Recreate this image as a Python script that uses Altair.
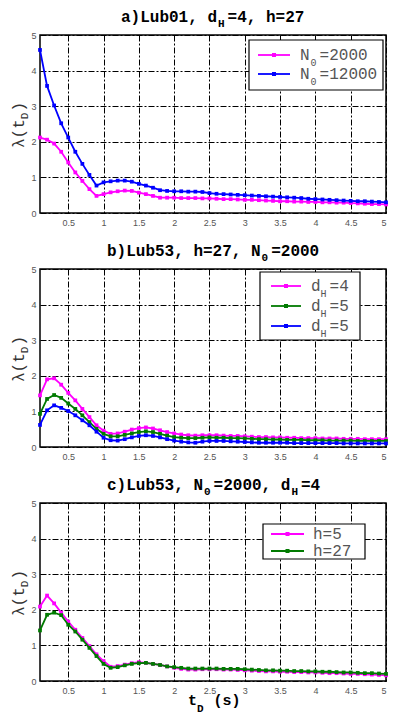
import altair as alt
import pandas as pd

# ---------------- data ----------------
t_D = [0.1, 0.2, 0.3, 0.4, 0.5, 0.6, 0.7, 0.8, 0.9, 1.0,
       1.1, 1.2, 1.3, 1.4, 1.5, 1.6, 1.7, 1.8, 1.9, 2.0,
       2.1, 2.2, 2.3, 2.4, 2.5, 2.6, 2.7, 2.8, 2.9, 3.0,
       3.1, 3.2, 3.3, 3.4, 3.5, 3.6, 3.7, 3.8, 3.9, 4.0,
       4.1, 4.2, 4.3, 4.4, 4.5, 4.6, 4.7, 4.8, 4.9, 5.0]

# panel a) Lub01, dH=4, h=27
a_N0_2000 = [2.12, 2.06, 1.95, 1.72, 1.42, 1.14, 0.90, 0.67, 0.48, 0.53,
             0.58, 0.61, 0.63, 0.62, 0.57, 0.53, 0.48, 0.43, 0.43, 0.43,
             0.42, 0.42, 0.42, 0.41, 0.41, 0.40, 0.39, 0.39, 0.38, 0.37,
             0.37, 0.36, 0.35, 0.34, 0.33, 0.33, 0.32, 0.32, 0.31, 0.31,
             0.30, 0.30, 0.29, 0.29, 0.28, 0.27, 0.26, 0.25, 0.25, 0.24]
a_N0_12000 = [4.58, 3.57, 3.02, 2.52, 2.12, 1.72, 1.38, 1.07, 0.77, 0.86,
              0.89, 0.91, 0.91, 0.88, 0.82, 0.77, 0.71, 0.64, 0.62, 0.61,
              0.61, 0.60, 0.60, 0.59, 0.56, 0.54, 0.53, 0.52, 0.51, 0.50,
              0.49, 0.48, 0.47, 0.46, 0.45, 0.44, 0.43, 0.42, 0.40, 0.39,
              0.38, 0.37, 0.36, 0.35, 0.34, 0.33, 0.33, 0.32, 0.31, 0.30]

# panel b) Lub53, h=27, N0=2000
b_dH4 = [1.45, 1.90, 1.93, 1.75, 1.52, 1.31, 1.07, 0.84, 0.61, 0.46,
         0.37, 0.38, 0.43, 0.49, 0.53, 0.55, 0.52, 0.47, 0.42, 0.38,
         0.35, 0.33, 0.32, 0.33, 0.33, 0.33, 0.32, 0.31, 0.31, 0.30,
         0.29, 0.28, 0.28, 0.27, 0.27, 0.26, 0.26, 0.25, 0.25, 0.25,
         0.24, 0.24, 0.24, 0.23, 0.23, 0.23, 0.22, 0.22, 0.22, 0.22]
b_dH5_green = [0.93, 1.35, 1.46, 1.38, 1.22, 1.07, 0.89, 0.70, 0.51, 0.37,
               0.30, 0.30, 0.34, 0.38, 0.42, 0.44, 0.42, 0.37, 0.32, 0.28,
               0.26, 0.25, 0.25, 0.26, 0.27, 0.26, 0.26, 0.25, 0.25, 0.24,
               0.23, 0.22, 0.22, 0.21, 0.21, 0.20, 0.20, 0.20, 0.19, 0.19,
               0.19, 0.18, 0.18, 0.18, 0.18, 0.17, 0.17, 0.17, 0.17, 0.17]
b_dH5_blue = [0.62, 1.03, 1.17, 1.10, 1.01, 0.89, 0.75, 0.61, 0.43, 0.26,
              0.19, 0.18, 0.22, 0.27, 0.31, 0.33, 0.31, 0.27, 0.22, 0.18,
              0.15, 0.13, 0.12, 0.15, 0.17, 0.17, 0.17, 0.16, 0.15, 0.14,
              0.13, 0.12, 0.12, 0.12, 0.12, 0.12, 0.11, 0.11, 0.11, 0.11,
              0.11, 0.11, 0.11, 0.10, 0.10, 0.10, 0.10, 0.10, 0.10, 0.10]

# panel c) Lub53, N0=2000, dH=4
c_h5 = [2.09, 2.40, 2.18, 1.92, 1.67, 1.44, 1.21, 0.98, 0.75, 0.56,
        0.40, 0.42, 0.46, 0.50, 0.53, 0.51, 0.48, 0.45, 0.41, 0.37,
        0.34, 0.32, 0.32, 0.33, 0.33, 0.33, 0.32, 0.32, 0.31, 0.30,
        0.29, 0.28, 0.27, 0.27, 0.26, 0.26, 0.25, 0.25, 0.24, 0.24,
        0.23, 0.22, 0.22, 0.21, 0.20, 0.20, 0.19, 0.18, 0.17, 0.16]
c_h27 = [1.42, 1.86, 1.92, 1.85, 1.58, 1.39, 1.16, 0.93, 0.70, 0.48,
         0.37, 0.39, 0.44, 0.48, 0.50, 0.51, 0.48, 0.45, 0.41, 0.39,
         0.37, 0.35, 0.35, 0.35, 0.35, 0.35, 0.34, 0.34, 0.34, 0.33,
         0.32, 0.31, 0.30, 0.30, 0.29, 0.29, 0.28, 0.28, 0.27, 0.27,
         0.26, 0.26, 0.25, 0.24, 0.24, 0.23, 0.22, 0.22, 0.21, 0.20]

x_ticks = [0.5, 1, 1.5, 2, 2.5, 3, 3.5, 4, 4.5, 5]
y_ticks = [0, 1, 2, 3, 4, 5]

MAGENTA = "#ff00ff"
BLUE = "#0000ff"
GREEN = "#007a00"

W, H = 346, 178
MONO = "Liberation Mono"
SANS = "Liberation Sans"

x_scale = alt.Scale(domain=[0.1, 5], nice=False, zero=False)
y_scale = alt.Scale(domain=[0, 5], nice=False)

GRID = dict(grid=True, gridDash=[6, 2, 2, 2], gridColor="black", gridWidth=1,
            gridOpacity=1, ticks=False, domain=False, title=None,
            labelFont=SANS, labelFontSize=9, labelColor="#555555")
x_axis = alt.Axis(values=x_ticks, format="~g", labelPadding=5, labelFlush=True, **GRID)
y_axis = alt.Axis(values=y_ticks, format="d", labelPadding=4, labelFlush=False, **GRID)


def series_layers(series):
    layers = []
    for vals, color in series:
        df = pd.DataFrame({"t": t_D, "v": vals})
        enc = dict(x=alt.X("t:Q", scale=x_scale, axis=x_axis),
                   y=alt.Y("v:Q", scale=y_scale, axis=y_axis))
        layers.append(alt.Chart(df).mark_line(color=color, strokeWidth=1.8).encode(**enc))
        layers.append(alt.Chart(df).mark_point(shape="square", filled=True, size=14,
                                               color=color, opacity=1).encode(**enc))
    return layers


def rich(pieces, x0, y0, size, sub_size, weight="normal", color="black",
         sub_dy=5, angle=0):
    """pieces: list of (text, is_subscript, gap_before)"""
    layers = []
    pos = x0 if angle == 0 else y0
    for text, sub, gap in pieces:
        fs = sub_size if sub else size
        if angle == 0:
            pos += gap
            x, y = pos, y0 + (sub_dy if sub else 0)
        else:
            pos -= gap
            x, y = x0 + (sub_dy if sub else 0), pos
        layers.append(
            alt.Chart(pd.DataFrame({"s": [text]})).mark_text(
                align="left", baseline="alphabetic", font=MONO, fontSize=fs,
                fontWeight=weight, color=color, angle=angle
            ).encode(x=alt.value(x), y=alt.value(y), text="s:N"))
        adv = 0.6 * fs * len(text)
        pos = pos + adv if angle == 0 else pos - adv
    return layers


def legend(box, rows, line_x, text_x):
    x1, x2, y1, y2 = box
    layers = [alt.Chart(pd.DataFrame({"a": [0]})).mark_rect(
        fill="white", stroke="black", strokeWidth=1.2).encode(
        x=alt.value(x1), x2=alt.value(x2), y=alt.value(y1), y2=alt.value(y2))]
    for ry, color, pieces in rows:
        layers.append(alt.Chart(pd.DataFrame({"a": [0]})).mark_rule(
            color=color, strokeWidth=1.8).encode(
            x=alt.value(line_x[0]), x2=alt.value(line_x[1]), y=alt.value(ry)))
        layers.append(alt.Chart(pd.DataFrame({"a": [0]})).mark_point(
            shape="square", filled=True, size=16, color=color, opacity=1).encode(
            x=alt.value((line_x[0] + line_x[1]) / 2), y=alt.value(ry)))
        layers += rich(pieces, text_x, ry + 5, 16, 10, color="#555555", sub_dy=6)
    return layers


def y_title():
    return rich([("λ(t", False, 0), ("D", True, 0), (")", False, 1)],
                -16, 113, 16, 11, color="#333333", sub_dy=4, angle=270)


TITLE_Y = -13
R = W - 3  # legend right edge

panel_a = alt.layer(
    *series_layers([(a_N0_2000, MAGENTA), (a_N0_12000, BLUE)]),
    *legend((R - 134, R, 5, 55),
            [(20, MAGENTA, [("N", False, 0), ("0", True, 1), ("=2000", False, 3)]),
             (39, BLUE, [("N", False, 0), ("0", True, 1), ("=12000", False, 3)])],
            (R - 125, R - 93), R - 83),
    *rich([("a)Lub01, d", False, 0), ("H", True, 1), ("=4, h=27", False, 3)],
          81, TITLE_Y, 16, 11, weight="bold"),
    *y_title(),
).properties(width=W, height=H)

panel_b = alt.layer(
    *series_layers([(b_dH4, MAGENTA), (b_dH5_green, GREEN), (b_dH5_blue, BLUE)]),
    *legend((R - 123, R - 23, 3, 71),
            [(17, MAGENTA, [("d", False, 0), ("H", True, 0), ("=4", False, 3)]),
             (37, GREEN, [("d", False, 0), ("H", True, 0), ("=5", False, 3)]),
             (57, BLUE, [("d", False, 0), ("H", True, 0), ("=5", False, 3)])],
            (R - 112, R - 82), R - 72),
    *rich([("b)Lub53, h=27, N", False, 0), ("0", True, 1), ("=2000", False, 3)],
          67, TITLE_Y, 16, 11, weight="bold"),
    *y_title(),
).properties(width=W, height=H)

panel_c = alt.layer(
    *series_layers([(c_h5, MAGENTA), (c_h27, GREEN)]),
    *legend((R - 120, R - 18, 21, 56),
            [(31, MAGENTA, [("h=5", False, 0)]),
             (48, GREEN, [("h=27", False, 0)])],
            (R - 112, R - 79), R - 70),
    *rich([("c)Lub53, N", False, 0), ("0", True, 1), ("=2000, d", False, 3),
           ("H", True, 1), ("=4", False, 3)],
          67, TITLE_Y, 16, 11, weight="bold"),
    *rich([("t", False, 0), ("D", True, 0), ("(s)", False, 10)],
          148, H + 24, 15, 11, weight="bold", sub_dy=7),
    *y_title(),
).properties(width=W, height=H)

chart = alt.vconcat(panel_a, panel_b, panel_c, spacing=56, bounds="flush").configure_view(
    stroke="black", strokeWidth=1.5
).properties(padding={"left": 2, "top": 0, "right": 0, "bottom": 0},
             background="white")

chart.save("out.html", embed_options={"renderer": "svg", "actions": False})
